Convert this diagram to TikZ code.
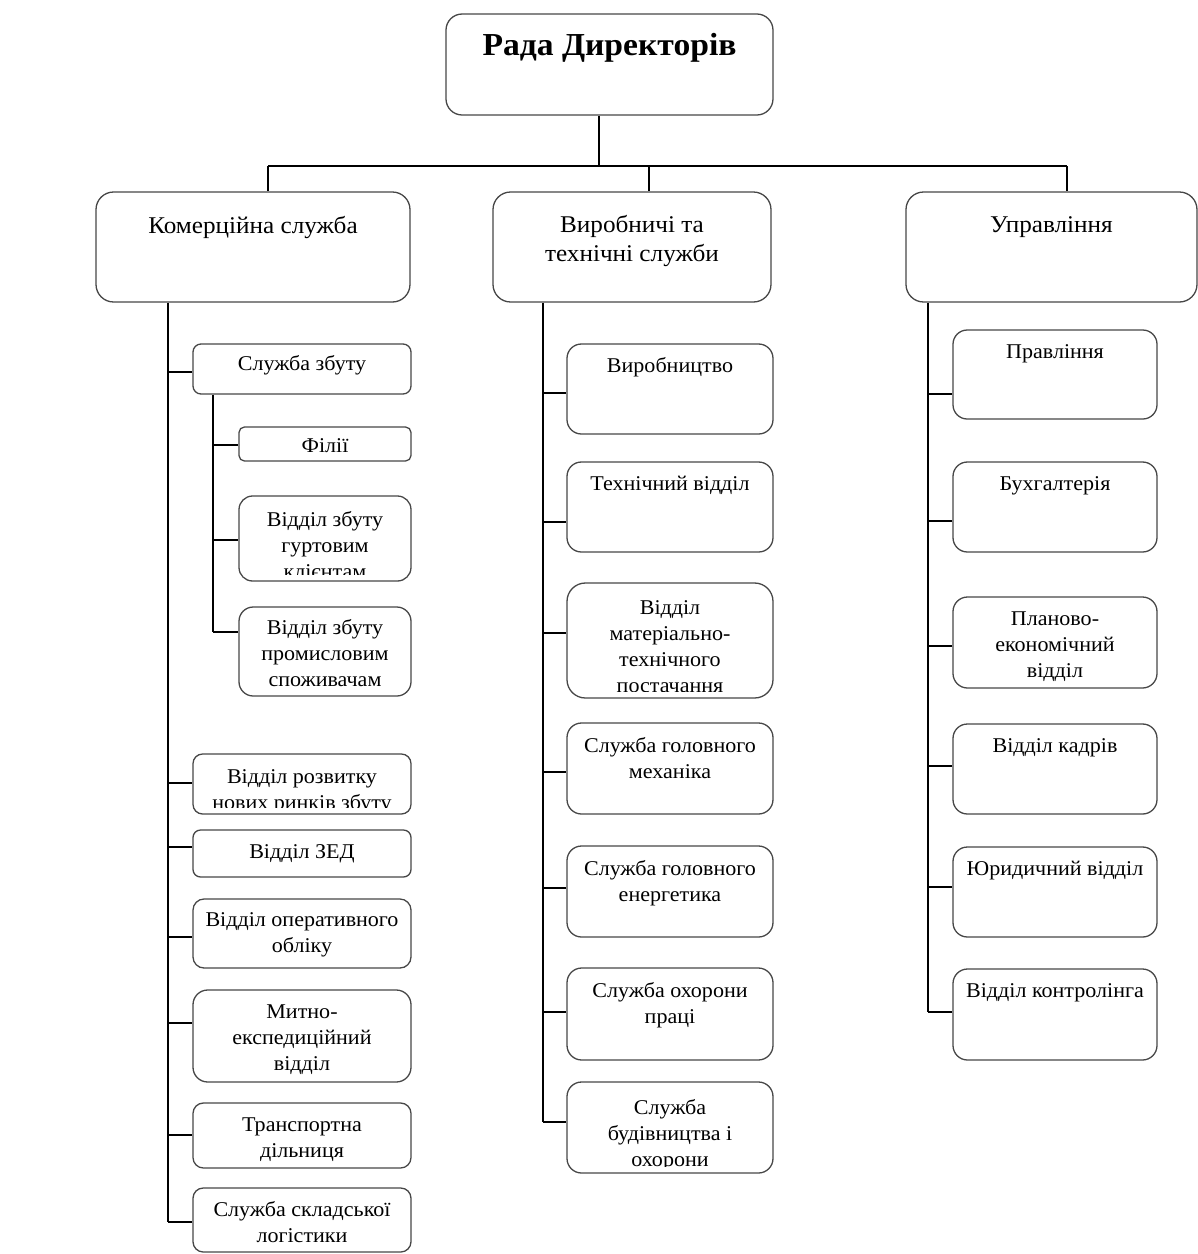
\documentclass[tikz,border=0pt]{standalone}
\usepackage{fontspec}
\setmainfont[FakeStretch=1.05]{Liberation Serif}
\usetikzlibrary{fit,calc}
\tikzset{
  box/.style={draw=black!72, line width=1.3pt, inner sep=0pt},
  wire/.style={draw=black, line width=1.2pt},
  lbl/.style={draw=none, anchor=north, align=center, inner sep=0pt},
}
\newcommand\fs{\fontsize{21}{26}\selectfont}
\newcommand\fh{\fontsize{24}{29}\selectfont}
\newcommand\ft{\fontsize{32}{38}\selectfont\bfseries}
% \orgbox[font]{name}{x1}{y1}{x2}{y2}{first baseline}{text}
\newcommand\orgbox[8][\fs]{%
  \pgfmathsetmacro\rr{0.16*min(#5-#3,#6-#4)}%
  \node[box, rounded corners=\rr pt, fit={(#3,#4) (#5,#6)}] (#2) {};
  \begin{scope}
    \clip[rounded corners=\rr pt] ([shift={(4pt,-4pt)}]#2.north west) rectangle ([shift={(-4pt,7pt)}]#2.south east);
    \node[lbl, font=#1] (#2-t) at ([yshift={-(#7-#4-24)*1pt}]#2.north) {\rule{0pt}{24pt}#8};
  \end{scope}}
\newcommand\conn[3]{\draw[wire] (#1 |- 0,#3) -- (#2.west |- 0,#3);}
\begin{document}
\begin{tikzpicture}[x=1pt,y=-1pt]
\useasboundingbox (0,0) rectangle (1198,1254);
% top
\orgbox[\ft]{top}{446}{14}{773}{115}{56}{Рада Директорів}
\orgbox[\fh]{kom}{96}{192}{410}{302}{234}{Комерційна служба}
\orgbox[\fh]{vyr}{493}{192}{771}{302}{233}{Виробничі та\\технічні служби}
\orgbox[\fh]{upr}{906}{192}{1197}{302}{233}{Управління}
% commercial
\orgbox{szb}{193}{344}{411}{394}{371}{Служба збуту}
\orgbox{fil}{239}{427}{411}{461}{453}{Філії}
\orgbox{gur}{239}{496}{411}{581}{527}{Відділ збуту\\гуртовим\\клієнтам}
\orgbox{prom}{239}{607}{411}{696}{635}{Відділ збуту\\промисловим\\споживачам}
\orgbox{roz}{193}{754}{411}{814}{784}{Відділ розвитку\\нових ринків збуту}
\orgbox{zed}{193}{830}{411}{877}{859}{Відділ ЗЕД}
\orgbox{oper}{193}{899}{411}{968}{927}{Відділ оперативного\\обліку}
\orgbox{mytn}{193}{990}{411}{1082}{1019}{Митно-\\експедиційний\\відділ}
\orgbox{tran}{193}{1103}{411}{1168}{1132}{Транспортна\\дільниця}
\orgbox{skl}{193}{1188}{411}{1252}{1217}{Служба складської\\логістики}
% production
\orgbox{vp1}{567}{344}{773}{434}{373}{Виробництво}
\orgbox{vp2}{567}{462}{773}{552}{491}{Технічний відділ}
\orgbox{vp3}{567}{583}{773}{698}{615}{Відділ\\матеріально-\\технічного\\постачання}
\orgbox{vp4}{567}{723}{773}{814}{753}{Служба головного\\механіка}
\orgbox{vp5}{567}{846}{773}{937}{876}{Служба головного\\енергетика}
\orgbox{vp6}{567}{968}{773}{1060}{998}{Служба охорони\\праці}
\orgbox{vp7}{567}{1082}{773}{1173}{1115}{Служба\\будівництва і\\охорони}
% management
\orgbox{up1}{953}{330}{1157}{419}{359}{Правління}
\orgbox{up2}{953}{462}{1157}{552}{491}{Бухгалтерія}
\orgbox{up3}{953}{597}{1157}{688}{626}{Планово-\\економічний\\відділ}
\orgbox{up4}{953}{724}{1157}{814}{753}{Відділ кадрів}
\orgbox{up5}{953}{847}{1157}{937}{876}{Юридичний відділ}
\orgbox{up6}{953}{969}{1157}{1060}{998}{Відділ контролінга}
% top connectors
\coordinate (bus) at (599,166);
\coordinate (busL) at (268,166);
\coordinate (busM) at (649,166);
\coordinate (busR) at (1067,166);
\draw[wire] ([xshift=-10.5pt]top.south) -- (bus);
\draw[wire] (busL) -- (busR);
\draw[wire] (busL) -- (busL |- kom.north);
\draw[wire] (busM) -- (busM |- vyr.north);
\draw[wire] (busR) -- (busR |- upr.north);
% trunks
\coordinate (kT) at (168,1222);
\coordinate (sT) at (213,632);
\coordinate (vT) at (543,1122);
\coordinate (uT) at (928,1012);
\draw[wire] (kT |- kom.south) -- (kT);
\draw[wire] (sT |- szb.south) -- (sT);
\draw[wire] (vT |- vyr.south) -- (vT);
\draw[wire] (uT |- upr.south) -- (uT);
% branches
\conn{kT}{szb}{372}
\conn{kT}{roz}{783}
\conn{kT}{zed}{847}
\conn{kT}{oper}{937}
\conn{kT}{mytn}{1023}
\conn{kT}{tran}{1135}
\conn{kT}{skl}{1222}
\conn{sT}{fil}{445}
\conn{sT}{gur}{540}
\conn{sT}{prom}{632}
\conn{vT}{vp1}{393}
\conn{vT}{vp2}{522}
\conn{vT}{vp3}{633}
\conn{vT}{vp4}{772}
\conn{vT}{vp5}{888}
\conn{vT}{vp6}{1012}
\conn{vT}{vp7}{1122}
\conn{uT}{up1}{394}
\conn{uT}{up2}{521}
\conn{uT}{up3}{646}
\conn{uT}{up4}{766}
\conn{uT}{up5}{887}
\conn{uT}{up6}{1012}
\end{tikzpicture}
\end{document}
